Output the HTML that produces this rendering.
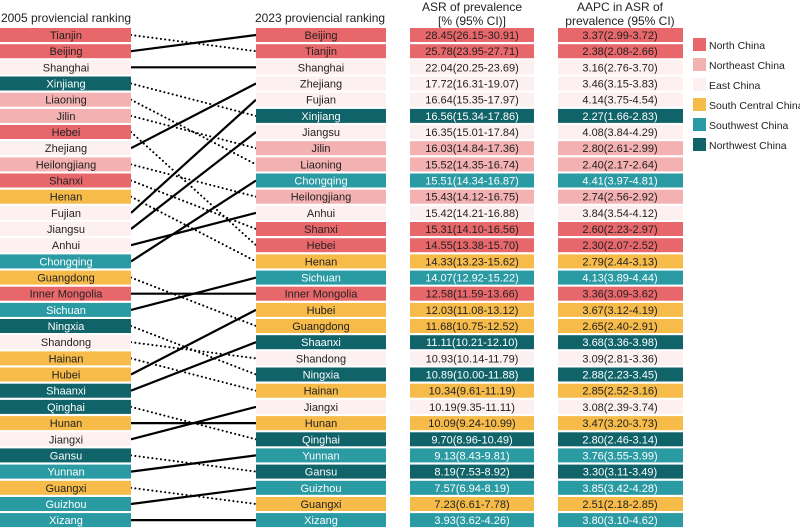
<!DOCTYPE html>
<html><head><meta charset="utf-8"><style>
html,body{margin:0;padding:0;background:#fff;}
svg{display:block;font-family:"Liberation Sans",sans-serif;}
.N{fill:#e8676a}.NE{fill:#f4b1b1}.E{fill:#fdf0f0}.SC{fill:#f6bb49}.SW{fill:#2a9aa3}.NW{fill:#0f6369}
text{font-size:11px;text-anchor:middle;fill:#222}
text.w{fill:#fff}
text.lg{font-size:10.5px;text-anchor:start}
.s{stroke:#000;stroke-width:2.2;fill:none}
.d{stroke:#000;stroke-width:2;fill:none;stroke-dasharray:0.1 4.2;stroke-linecap:round}
</style></head><body>
<svg width="800" height="529" viewBox="0 0 800 529">
<g style="font-size:12px">
<text x="66" y="22" style="font-size:12px">2005 proviencial ranking</text>
<text x="320" y="22" style="font-size:12px">2023 proviencial ranking</text>
<text x="472" y="11" style="font-size:12px">ASR of prevalence</text>
<text x="472" y="25" style="font-size:12px">[% (95% CI)]</text>
<text x="620" y="11" style="font-size:12px">AAPC in ASR of</text>
<text x="620" y="25" style="font-size:12px">prevalence (95% CI)</text>
</g>
<!-- legend -->
<rect x="693" y="38" width="13" height="13" class="N"/><text x="709" y="49" class="lg">North China</text>
<rect x="693" y="58" width="13" height="13" class="NE"/><text x="709" y="69" class="lg">Northeast China</text>
<rect x="693" y="78" width="13" height="13" class="E"/><text x="709" y="89" class="lg">East China</text>
<rect x="693" y="98" width="13" height="13" class="SC"/><text x="709" y="109" class="lg">South Central China</text>
<rect x="693" y="118" width="13" height="13" class="SW"/><text x="709" y="129" class="lg">Southwest China</text>
<rect x="693" y="138" width="13" height="13" class="NW"/><text x="709" y="149" class="lg">Northwest China</text>

<line x1="131" y1="35" x2="256" y2="51.2" class="d"/>
<line x1="131" y1="51.2" x2="256" y2="35" class="s"/>
<line x1="131" y1="67.3" x2="256" y2="67.3" class="s"/>
<line x1="131" y1="83.5" x2="256" y2="115.9" class="d"/>
<line x1="131" y1="99.7" x2="256" y2="164.4" class="d"/>
<line x1="131" y1="115.9" x2="256" y2="148.2" class="d"/>
<line x1="131" y1="132" x2="256" y2="245.2" class="d"/>
<line x1="131" y1="148.2" x2="256" y2="83.5" class="s"/>
<line x1="131" y1="164.4" x2="256" y2="196.7" class="d"/>
<line x1="131" y1="180.5" x2="256" y2="229" class="d"/>
<line x1="131" y1="196.7" x2="256" y2="261.4" class="d"/>
<line x1="131" y1="212.9" x2="256" y2="99.7" class="s"/>
<line x1="131" y1="229" x2="256" y2="132" class="s"/>
<line x1="131" y1="245.2" x2="256" y2="212.9" class="s"/>
<line x1="131" y1="261.4" x2="256" y2="180.5" class="s"/>
<line x1="131" y1="277.6" x2="256" y2="326" class="d"/>
<line x1="131" y1="293.7" x2="256" y2="293.7" class="s"/>
<line x1="131" y1="309.9" x2="256" y2="277.6" class="s"/>
<line x1="131" y1="326" x2="256" y2="374.5" class="d"/>
<line x1="131" y1="342.2" x2="256" y2="358.4" class="d"/>
<line x1="131" y1="358.4" x2="256" y2="390.7" class="d"/>
<line x1="131" y1="374.5" x2="256" y2="309.9" class="s"/>
<line x1="131" y1="390.7" x2="256" y2="342.2" class="s"/>
<line x1="131" y1="406.9" x2="256" y2="439.3" class="d"/>
<line x1="131" y1="423.1" x2="256" y2="423.1" class="s"/>
<line x1="131" y1="439.3" x2="256" y2="406.9" class="s"/>
<line x1="131" y1="455.4" x2="256" y2="471.6" class="d"/>
<line x1="131" y1="471.6" x2="256" y2="455.4" class="s"/>
<line x1="131" y1="487.8" x2="256" y2="504" class="d"/>
<line x1="131" y1="504" x2="256" y2="487.8" class="s"/>
<line x1="131" y1="520.1" x2="256" y2="520.1" class="s"/>

<g>
<rect x="0" y="28" width="131" height="14" class="N"/><text x="66" y="39">Tianjin</text>
<rect x="0" y="44.2" width="131" height="14" class="N"/><text x="66" y="55.2">Beijing</text>
<rect x="0" y="60.3" width="131" height="14" class="E"/><text x="66" y="71.3">Shanghai</text>
<rect x="0" y="76.5" width="131" height="14" class="NW"/><text x="66" y="87.5" class="w">Xinjiang</text>
<rect x="0" y="92.7" width="131" height="14" class="NE"/><text x="66" y="103.7">Liaoning</text>
<rect x="0" y="108.9" width="131" height="14" class="NE"/><text x="66" y="119.9">Jilin</text>
<rect x="0" y="125" width="131" height="14" class="N"/><text x="66" y="136">Hebei</text>
<rect x="0" y="141.2" width="131" height="14" class="E"/><text x="66" y="152.2">Zhejiang</text>
<rect x="0" y="157.4" width="131" height="14" class="NE"/><text x="66" y="168.4">Heilongjiang</text>
<rect x="0" y="173.5" width="131" height="14" class="N"/><text x="66" y="184.5">Shanxi</text>
<rect x="0" y="189.7" width="131" height="14" class="SC"/><text x="66" y="200.7">Henan</text>
<rect x="0" y="205.9" width="131" height="14" class="E"/><text x="66" y="216.9">Fujian</text>
<rect x="0" y="222" width="131" height="14" class="E"/><text x="66" y="233">Jiangsu</text>
<rect x="0" y="238.2" width="131" height="14" class="E"/><text x="66" y="249.2">Anhui</text>
<rect x="0" y="254.4" width="131" height="14" class="SW"/><text x="66" y="265.4" class="w">Chongqing</text>
<rect x="0" y="270.6" width="131" height="14" class="SC"/><text x="66" y="281.6">Guangdong</text>
<rect x="0" y="286.7" width="131" height="14" class="N"/><text x="66" y="297.7">Inner Mongolia</text>
<rect x="0" y="302.9" width="131" height="14" class="SW"/><text x="66" y="313.9" class="w">Sichuan</text>
<rect x="0" y="319" width="131" height="14" class="NW"/><text x="66" y="330" class="w">Ningxia</text>
<rect x="0" y="335.2" width="131" height="14" class="E"/><text x="66" y="346.2">Shandong</text>
<rect x="0" y="351.4" width="131" height="14" class="SC"/><text x="66" y="362.4">Hainan</text>
<rect x="0" y="367.5" width="131" height="14" class="SC"/><text x="66" y="378.5">Hubei</text>
<rect x="0" y="383.7" width="131" height="14" class="NW"/><text x="66" y="394.7" class="w">Shaanxi</text>
<rect x="0" y="399.9" width="131" height="14" class="NW"/><text x="66" y="410.9" class="w">Qinghai</text>
<rect x="0" y="416.1" width="131" height="14" class="SC"/><text x="66" y="427.1">Hunan</text>
<rect x="0" y="432.3" width="131" height="14" class="E"/><text x="66" y="443.3">Jiangxi</text>
<rect x="0" y="448.4" width="131" height="14" class="NW"/><text x="66" y="459.4" class="w">Gansu</text>
<rect x="0" y="464.6" width="131" height="14" class="SW"/><text x="66" y="475.6" class="w">Yunnan</text>
<rect x="0" y="480.8" width="131" height="14" class="SC"/><text x="66" y="491.8">Guangxi</text>
<rect x="0" y="497" width="131" height="14" class="SW"/><text x="66" y="508" class="w">Guizhou</text>
<rect x="0" y="513.1" width="131" height="14" class="SW"/><text x="66" y="524.1" class="w">Xizang</text>
</g>

<g>
<rect x="256" y="28" width="130" height="14" class="N"/><rect x="410" y="28" width="124" height="14" class="N"/><rect x="558" y="28" width="125" height="14" class="N"/>
<text x="321" y="39">Beijing</text><text x="472" y="39">28.45(26.15-30.91)</text><text x="620" y="39">3.37(2.99-3.72)</text>
<rect x="256" y="44.2" width="130" height="14" class="N"/><rect x="410" y="44.2" width="124" height="14" class="N"/><rect x="558" y="44.2" width="125" height="14" class="N"/>
<text x="321" y="55.2">Tianjin</text><text x="472" y="55.2">25.78(23.95-27.71)</text><text x="620" y="55.2">2.38(2.08-2.66)</text>
<rect x="256" y="60.3" width="130" height="14" class="E"/><rect x="410" y="60.3" width="124" height="14" class="E"/><rect x="558" y="60.3" width="125" height="14" class="E"/>
<text x="321" y="71.3">Shanghai</text><text x="472" y="71.3">22.04(20.25-23.69)</text><text x="620" y="71.3">3.16(2.76-3.70)</text>
<rect x="256" y="76.5" width="130" height="14" class="E"/><rect x="410" y="76.5" width="124" height="14" class="E"/><rect x="558" y="76.5" width="125" height="14" class="E"/>
<text x="321" y="87.5">Zhejiang</text><text x="472" y="87.5">17.72(16.31-19.07)</text><text x="620" y="87.5">3.46(3.15-3.83)</text>
<rect x="256" y="92.7" width="130" height="14" class="E"/><rect x="410" y="92.7" width="124" height="14" class="E"/><rect x="558" y="92.7" width="125" height="14" class="E"/>
<text x="321" y="103.7">Fujian</text><text x="472" y="103.7">16.64(15.35-17.97)</text><text x="620" y="103.7">4.14(3.75-4.54)</text>
<rect x="256" y="108.9" width="130" height="14" class="NW"/><rect x="410" y="108.9" width="124" height="14" class="NW"/><rect x="558" y="108.9" width="125" height="14" class="NW"/>
<text x="321" y="119.9" class="w">Xinjiang</text><text x="472" y="119.9" class="w">16.56(15.34-17.86)</text><text x="620" y="119.9" class="w">2.27(1.66-2.83)</text>
<rect x="256" y="125" width="130" height="14" class="E"/><rect x="410" y="125" width="124" height="14" class="E"/><rect x="558" y="125" width="125" height="14" class="E"/>
<text x="321" y="136">Jiangsu</text><text x="472" y="136">16.35(15.01-17.84)</text><text x="620" y="136">4.08(3.84-4.29)</text>
<rect x="256" y="141.2" width="130" height="14" class="NE"/><rect x="410" y="141.2" width="124" height="14" class="NE"/><rect x="558" y="141.2" width="125" height="14" class="NE"/>
<text x="321" y="152.2">Jilin</text><text x="472" y="152.2">16.03(14.84-17.36)</text><text x="620" y="152.2">2.80(2.61-2.99)</text>
<rect x="256" y="157.4" width="130" height="14" class="NE"/><rect x="410" y="157.4" width="124" height="14" class="NE"/><rect x="558" y="157.4" width="125" height="14" class="NE"/>
<text x="321" y="168.4">Liaoning</text><text x="472" y="168.4">15.52(14.35-16.74)</text><text x="620" y="168.4">2.40(2.17-2.64)</text>
<rect x="256" y="173.5" width="130" height="14" class="SW"/><rect x="410" y="173.5" width="124" height="14" class="SW"/><rect x="558" y="173.5" width="125" height="14" class="SW"/>
<text x="321" y="184.5" class="w">Chongqing</text><text x="472" y="184.5" class="w">15.51(14.34-16.87)</text><text x="620" y="184.5" class="w">4.41(3.97-4.81)</text>
<rect x="256" y="189.7" width="130" height="14" class="NE"/><rect x="410" y="189.7" width="124" height="14" class="NE"/><rect x="558" y="189.7" width="125" height="14" class="NE"/>
<text x="321" y="200.7">Heilongjiang</text><text x="472" y="200.7">15.43(14.12-16.75)</text><text x="620" y="200.7">2.74(2.56-2.92)</text>
<rect x="256" y="205.9" width="130" height="14" class="E"/><rect x="410" y="205.9" width="124" height="14" class="E"/><rect x="558" y="205.9" width="125" height="14" class="E"/>
<text x="321" y="216.9">Anhui</text><text x="472" y="216.9">15.42(14.21-16.88)</text><text x="620" y="216.9">3.84(3.54-4.12)</text>
<rect x="256" y="222" width="130" height="14" class="N"/><rect x="410" y="222" width="124" height="14" class="N"/><rect x="558" y="222" width="125" height="14" class="N"/>
<text x="321" y="233">Shanxi</text><text x="472" y="233">15.31(14.10-16.56)</text><text x="620" y="233">2.60(2.23-2.97)</text>
<rect x="256" y="238.2" width="130" height="14" class="N"/><rect x="410" y="238.2" width="124" height="14" class="N"/><rect x="558" y="238.2" width="125" height="14" class="N"/>
<text x="321" y="249.2">Hebei</text><text x="472" y="249.2">14.55(13.38-15.70)</text><text x="620" y="249.2">2.30(2.07-2.52)</text>
<rect x="256" y="254.4" width="130" height="14" class="SC"/><rect x="410" y="254.4" width="124" height="14" class="SC"/><rect x="558" y="254.4" width="125" height="14" class="SC"/>
<text x="321" y="265.4">Henan</text><text x="472" y="265.4">14.33(13.23-15.62)</text><text x="620" y="265.4">2.79(2.44-3.13)</text>
<rect x="256" y="270.6" width="130" height="14" class="SW"/><rect x="410" y="270.6" width="124" height="14" class="SW"/><rect x="558" y="270.6" width="125" height="14" class="SW"/>
<text x="321" y="281.6" class="w">Sichuan</text><text x="472" y="281.6" class="w">14.07(12.92-15.22)</text><text x="620" y="281.6" class="w">4.13(3.89-4.44)</text>
<rect x="256" y="286.7" width="130" height="14" class="N"/><rect x="410" y="286.7" width="124" height="14" class="N"/><rect x="558" y="286.7" width="125" height="14" class="N"/>
<text x="321" y="297.7">Inner Mongolia</text><text x="472" y="297.7">12.58(11.59-13.66)</text><text x="620" y="297.7">3.36(3.09-3.62)</text>
<rect x="256" y="302.9" width="130" height="14" class="SC"/><rect x="410" y="302.9" width="124" height="14" class="SC"/><rect x="558" y="302.9" width="125" height="14" class="SC"/>
<text x="321" y="313.9">Hubei</text><text x="472" y="313.9">12.03(11.08-13.12)</text><text x="620" y="313.9">3.67(3.12-4.19)</text>
<rect x="256" y="319" width="130" height="14" class="SC"/><rect x="410" y="319" width="124" height="14" class="SC"/><rect x="558" y="319" width="125" height="14" class="SC"/>
<text x="321" y="330">Guangdong</text><text x="472" y="330">11.68(10.75-12.52)</text><text x="620" y="330">2.65(2.40-2.91)</text>
<rect x="256" y="335.2" width="130" height="14" class="NW"/><rect x="410" y="335.2" width="124" height="14" class="NW"/><rect x="558" y="335.2" width="125" height="14" class="NW"/>
<text x="321" y="346.2" class="w">Shaanxi</text><text x="472" y="346.2" class="w">11.11(10.21-12.10)</text><text x="620" y="346.2" class="w">3.68(3.36-3.98)</text>
<rect x="256" y="351.4" width="130" height="14" class="E"/><rect x="410" y="351.4" width="124" height="14" class="E"/><rect x="558" y="351.4" width="125" height="14" class="E"/>
<text x="321" y="362.4">Shandong</text><text x="472" y="362.4">10.93(10.14-11.79)</text><text x="620" y="362.4">3.09(2.81-3.36)</text>
<rect x="256" y="367.5" width="130" height="14" class="NW"/><rect x="410" y="367.5" width="124" height="14" class="NW"/><rect x="558" y="367.5" width="125" height="14" class="NW"/>
<text x="321" y="378.5" class="w">Ningxia</text><text x="472" y="378.5" class="w">10.89(10.00-11.88)</text><text x="620" y="378.5" class="w">2.88(2.23-3.45)</text>
<rect x="256" y="383.7" width="130" height="14" class="SC"/><rect x="410" y="383.7" width="124" height="14" class="SC"/><rect x="558" y="383.7" width="125" height="14" class="SC"/>
<text x="321" y="394.7">Hainan</text><text x="472" y="394.7">10.34(9.61-11.19)</text><text x="620" y="394.7">2.85(2.52-3.16)</text>
<rect x="256" y="399.9" width="130" height="14" class="E"/><rect x="410" y="399.9" width="124" height="14" class="E"/><rect x="558" y="399.9" width="125" height="14" class="E"/>
<text x="321" y="410.9">Jiangxi</text><text x="472" y="410.9">10.19(9.35-11.11)</text><text x="620" y="410.9">3.08(2.39-3.74)</text>
<rect x="256" y="416.1" width="130" height="14" class="SC"/><rect x="410" y="416.1" width="124" height="14" class="SC"/><rect x="558" y="416.1" width="125" height="14" class="SC"/>
<text x="321" y="427.1">Hunan</text><text x="472" y="427.1">10.09(9.24-10.99)</text><text x="620" y="427.1">3.47(3.20-3.73)</text>
<rect x="256" y="432.3" width="130" height="14" class="NW"/><rect x="410" y="432.3" width="124" height="14" class="NW"/><rect x="558" y="432.3" width="125" height="14" class="NW"/>
<text x="321" y="443.3" class="w">Qinghai</text><text x="472" y="443.3" class="w">9.70(8.96-10.49)</text><text x="620" y="443.3" class="w">2.80(2.46-3.14)</text>
<rect x="256" y="448.4" width="130" height="14" class="SW"/><rect x="410" y="448.4" width="124" height="14" class="SW"/><rect x="558" y="448.4" width="125" height="14" class="SW"/>
<text x="321" y="459.4" class="w">Yunnan</text><text x="472" y="459.4" class="w">9.13(8.43-9.81)</text><text x="620" y="459.4" class="w">3.76(3.55-3.99)</text>
<rect x="256" y="464.6" width="130" height="14" class="NW"/><rect x="410" y="464.6" width="124" height="14" class="NW"/><rect x="558" y="464.6" width="125" height="14" class="NW"/>
<text x="321" y="475.6" class="w">Gansu</text><text x="472" y="475.6" class="w">8.19(7.53-8.92)</text><text x="620" y="475.6" class="w">3.30(3.11-3.49)</text>
<rect x="256" y="480.8" width="130" height="14" class="SW"/><rect x="410" y="480.8" width="124" height="14" class="SW"/><rect x="558" y="480.8" width="125" height="14" class="SW"/>
<text x="321" y="491.8" class="w">Guizhou</text><text x="472" y="491.8" class="w">7.57(6.94-8.19)</text><text x="620" y="491.8" class="w">3.85(3.42-4.28)</text>
<rect x="256" y="497" width="130" height="14" class="SC"/><rect x="410" y="497" width="124" height="14" class="SC"/><rect x="558" y="497" width="125" height="14" class="SC"/>
<text x="321" y="508">Guangxi</text><text x="472" y="508">7.23(6.61-7.78)</text><text x="620" y="508">2.51(2.18-2.85)</text>
<rect x="256" y="513.1" width="130" height="14" class="SW"/><rect x="410" y="513.1" width="124" height="14" class="SW"/><rect x="558" y="513.1" width="125" height="14" class="SW"/>
<text x="321" y="524.1" class="w">Xizang</text><text x="472" y="524.1" class="w">3.93(3.62-4.26)</text><text x="620" y="524.1" class="w">3.80(3.10-4.62)</text>
</g>
</svg>
</body></html>
